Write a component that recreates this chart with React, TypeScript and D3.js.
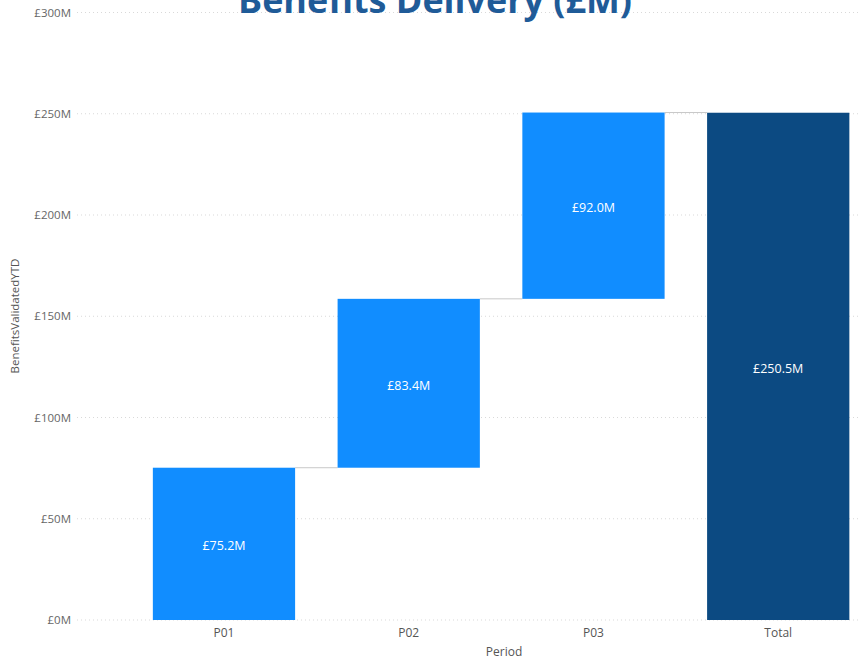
import React from "react";
import * as d3 from "d3";

const categories = ["P01", "P02", "P03"];
const increments = [75.2, 83.4, 92.0];
const totalLabel = "Total";
const totalValue = 250.5;
const yTicks = [0, 50, 100, 150, 200, 250, 300];

const W = 859;
const H = 664;
const FONT = "'Open Sans', 'Noto Sans', sans-serif";

export default function App() {
  const y = d3.scaleLinear().domain([0, 300]).range([620, 12.5]);
  const allCats = [...categories, totalLabel];
  const x = d3
    .scaleBand<string>()
    .domain(allCats)
    .range([131.6, 870.6])
    .paddingInner(0.23)
    .paddingOuter(0.115);

  let cum = 0;
  const bars = categories.map((c, i) => {
    const start = cum;
    cum += increments[i];
    return { cat: c, start, end: cum, value: increments[i], total: false };
  });
  bars.push({ cat: totalLabel, start: 0, end: totalValue, value: totalValue, total: true });

  const fmt = (v: number) => `£${v.toFixed(1)}M`;

  return (
    <svg
      width={W}
      height={H}
      style={{ position: "absolute", left: 0, top: 0, background: "#fff" }}
      fontFamily={FONT}
    >
      {yTicks.map((t) => (
        <g key={t}>
          <line
            x1={77}
            x2={W}
            y1={y(t)}
            y2={y(t)}
            stroke="#d9d9d9"
            strokeWidth={1}
            strokeDasharray="1,3"
          />
          <text
            x={71}
            y={y(t)}
            dy="0.35em"
            textAnchor="end"
            fontSize={11.5}
            fill="#666"
          >
            {`£${t}M`}
          </text>
        </g>
      ))}

      {bars.slice(0, -1).map((b, i) => {
        const next = bars[i + 1];
        const lvl = b.end;
        return (
          <line
            key={"c" + i}
            x1={(x(b.cat) as number) + x.bandwidth()}
            x2={x(next.cat) as number}
            y1={y(lvl)}
            y2={y(lvl)}
            stroke="#c8c8c8"
            strokeWidth={1}
          />
        );
      })}

      {bars.map((b) => {
        const x0 = x(b.cat) as number;
        const top = y(b.end);
        const bot = y(b.start);
        return (
          <g key={b.cat}>
            <rect
              x={x0}
              y={top}
              width={x.bandwidth()}
              height={bot - top}
              fill={b.total ? "#0C4A82" : "#118DFF"}
            />
            <text
              x={x0 + x.bandwidth() / 2}
              y={(top + bot) / 2 + 2}
              dy="0.35em"
              textAnchor="middle"
              fontSize={12.5}
              fill="#fff"
            >
              {fmt(b.value)}
            </text>
          </g>
        );
      })}

      {allCats.map((c) => (
        <text
          key={"xl" + c}
          x={(x(c) as number) + x.bandwidth() / 2}
          y={633}
          dy="0.35em"
          textAnchor="middle"
          fontSize={12}
          fill="#555"
        >
          {c}
        </text>
      ))}

      <text x={504} y={652} dy="0.35em" textAnchor="middle" fontSize={12} fill="#555">
        Period
      </text>
      <text
        transform={`translate(15, 316) rotate(-90)`}
        dy="0.35em"
        textAnchor="middle"
        fontSize={11.5}
        fill="#555"
      >
        BenefitsValidatedYTD
      </text>

      <text
        x={435}
        y={13}
        textAnchor="middle"
        fontSize={36}
        fontWeight="bold"
        fill="#1F5B98"
        textLength={394}
        lengthAdjust="spacingAndGlyphs"
      >
        Benefits Delivery (£M)
      </text>
    </svg>
  );
}
